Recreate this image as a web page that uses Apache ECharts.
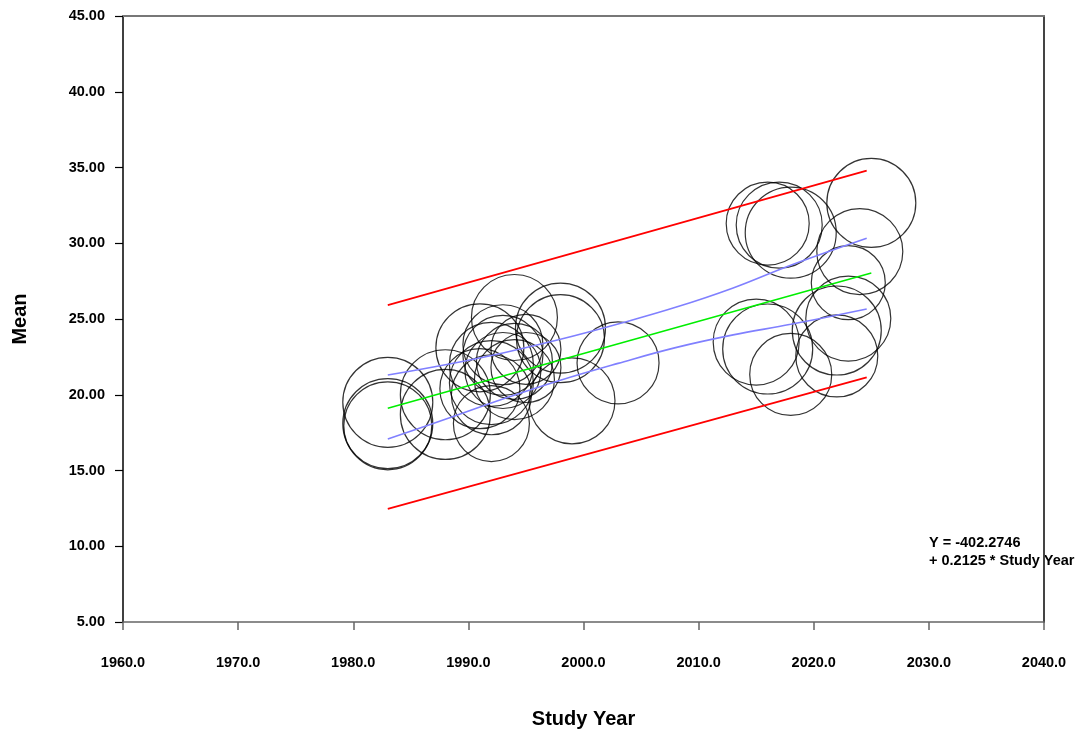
<!DOCTYPE html>
<html>
<head>
<meta charset="utf-8">
<script src="https://cdn.jsdelivr.net/npm/echarts@6/dist/echarts.min.js"></script>
<style>
  html, body { margin: 0; padding: 0; background: #fff; }
  #chart { width: 1081px; height: 734px; }
</style>
</head>
<body>
<div id="chart"></div>
<script>
// Studies: year, mean, relative weight (drives bubble radius)
const studyYear = [1983, 1983, 1983, 1988, 1988, 1991, 1991, 1992, 1992, 1992, 1992, 1993, 1993, 1993,
  1994, 1994, 1994, 1995, 1995, 1998, 1998, 1999, 2003,
  2015, 2016, 2016, 2017, 2018, 2018, 2022, 2022, 2023, 2023, 2024, 2025];
const meanValue = [19.5, 18.1, 17.95, 20.0, 18.7, 23.1, 20.4, 18.1, 22.0, 20.8, 20.0, 22.6, 21.6, 23.3,
  25.1, 22.2, 21.0, 23.0, 21.8, 24.4, 23.7, 19.6, 22.1,
  23.48, 31.3, 23.02, 31.2, 30.7, 21.34, 24.24, 22.56, 27.4, 25.03, 29.45, 32.66];
const studyWeight = [4.5, 4.5, 4.4, 4.5, 4.5, 4.4, 4.0, 3.8, 4.2, 4.2, 4.0, 4.0, 3.8, 4.0,
  4.3, 3.8, 4.0, 3.5, 3.5, 4.5, 4.4, 4.3, 4.1,
  4.3, 4.15, 4.5, 4.3, 4.55, 4.1, 4.45, 4.1, 3.7, 4.25, 4.3, 4.45];

// Regression line
const fitYears = [1983, 2025];
const fitValues = [19.11, 28.04];

// Confidence band (curved)
const ciYears = [1983, 1988, 1993, 1998, 2003, 2008, 2013, 2018, 2024.6];
const ciUpper = [21.3, 21.98, 22.76, 23.66, 24.67, 25.77, 27.05, 28.55, 30.33];
const ciLower = [17.08, 18.38, 19.72, 20.96, 22.07, 23.11, 23.95, 24.65, 25.66];

// Prediction band
const piYears = [1983, 2024.6];
const piUpper = [25.92, 34.79];
const piLower = [12.46, 21.15];

// Axis ticks
const yTicks = { min: 5, max: 45, step: 5 };
const xTicks = { min: 1960, max: 2040, step: 10 };

const equationLines = ['Y = -402.2746', '+ 0.2125 * Study Year'];

const FONT = '"Liberation Sans", Arial, sans-serif';

const pairs = (xs, ys) => xs.map((x, i) => [x, ys[i]]);

const chart = echarts.init(document.getElementById('chart'), null, { renderer: 'canvas' });

const lineSeries = (name, xs, ys, color, width, smooth) => ({
  name, type: 'line', data: pairs(xs, ys), showSymbol: false, smooth: smooth ? 0.4 : false,
  lineStyle: { color, width }, z: 5, silent: true
});

chart.setOption({
  animation: false,
  backgroundColor: '#fff',
  grid: { left: 123, right: 37, top: 16, bottom: 112, show: false },
  xAxis: [{
    type: 'value', min: xTicks.min, max: xTicks.max, interval: xTicks.step,
    name: 'Study Year', nameLocation: 'middle', nameGap: 87,
    nameTextStyle: { fontFamily: FONT, fontWeight: 'bold', fontSize: 20, color: '#000' },
    axisLine: { show: true, lineStyle: { color: '#666', width: 1.5 } },
    axisTick: { show: true, length: 8, lineStyle: { color: '#666', width: 1.5 } },
    axisLabel: { margin: 33, fontFamily: FONT, fontWeight: 'bold', fontSize: 14.5, color: '#000',
      formatter: v => v.toFixed(1) },
    splitLine: { show: false }
  }, {
    type: 'value', position: 'top', min: xTicks.min, max: xTicks.max,
    axisLine: { show: true, lineStyle: { color: '#777', width: 2 } },
    axisTick: { show: false }, axisLabel: { show: false }, splitLine: { show: false }
  }],
  yAxis: [{
    type: 'value', min: yTicks.min, max: yTicks.max, interval: yTicks.step,
    name: 'Mean', nameLocation: 'middle', nameGap: 93, nameRotate: 90,
    nameTextStyle: { fontFamily: FONT, fontWeight: 'bold', fontSize: 20, color: '#000' },
    axisLine: { show: true, lineStyle: { color: '#000', width: 1.5 } },
    axisTick: { show: true, length: 8, lineStyle: { color: '#000', width: 1.2 } },
    axisLabel: { margin: 18, fontFamily: FONT, fontWeight: 'bold', fontSize: 14.5, color: '#000',
      formatter: v => v.toFixed(2) },
    splitLine: { show: false }
  }, {
    type: 'value', position: 'right', min: yTicks.min, max: yTicks.max,
    axisLine: { show: true, lineStyle: { color: '#444', width: 2 } },
    axisTick: { show: false }, axisLabel: { show: false }, splitLine: { show: false }
  }],
  series: [
    {
      name: 'Studies', type: 'scatter',
      data: studyYear.map((y, i) => [y, meanValue[i], studyWeight[i]]),
      symbol: 'circle',
      symbolSize: d => d[2] * 20,
      itemStyle: { color: 'rgba(0,0,0,0)', borderColor: '#000', borderWidth: 1.2 },
      z: 3, silent: true
    },
    lineSeries('Upper prediction', piYears, piUpper, '#ff0000', 1.8, false),
    lineSeries('Lower prediction', piYears, piLower, '#ff0000', 1.8, false),
    lineSeries('Upper confidence', ciYears, ciUpper, '#8080ff', 1.6, true),
    lineSeries('Lower confidence', ciYears, ciLower, '#8080ff', 1.6, true),
    lineSeries('Fit', fitYears, fitValues, '#00ee00', 1.6, false)
  ],
  graphic: [{
    type: 'text', left: 929, top: 534,
    style: { text: equationLines.join('\n'), fontFamily: FONT, fontWeight: 'bold', fontSize: 14.5,
      lineHeight: 18, fill: '#000' }
  }]
});
</script>
</body>
</html>
